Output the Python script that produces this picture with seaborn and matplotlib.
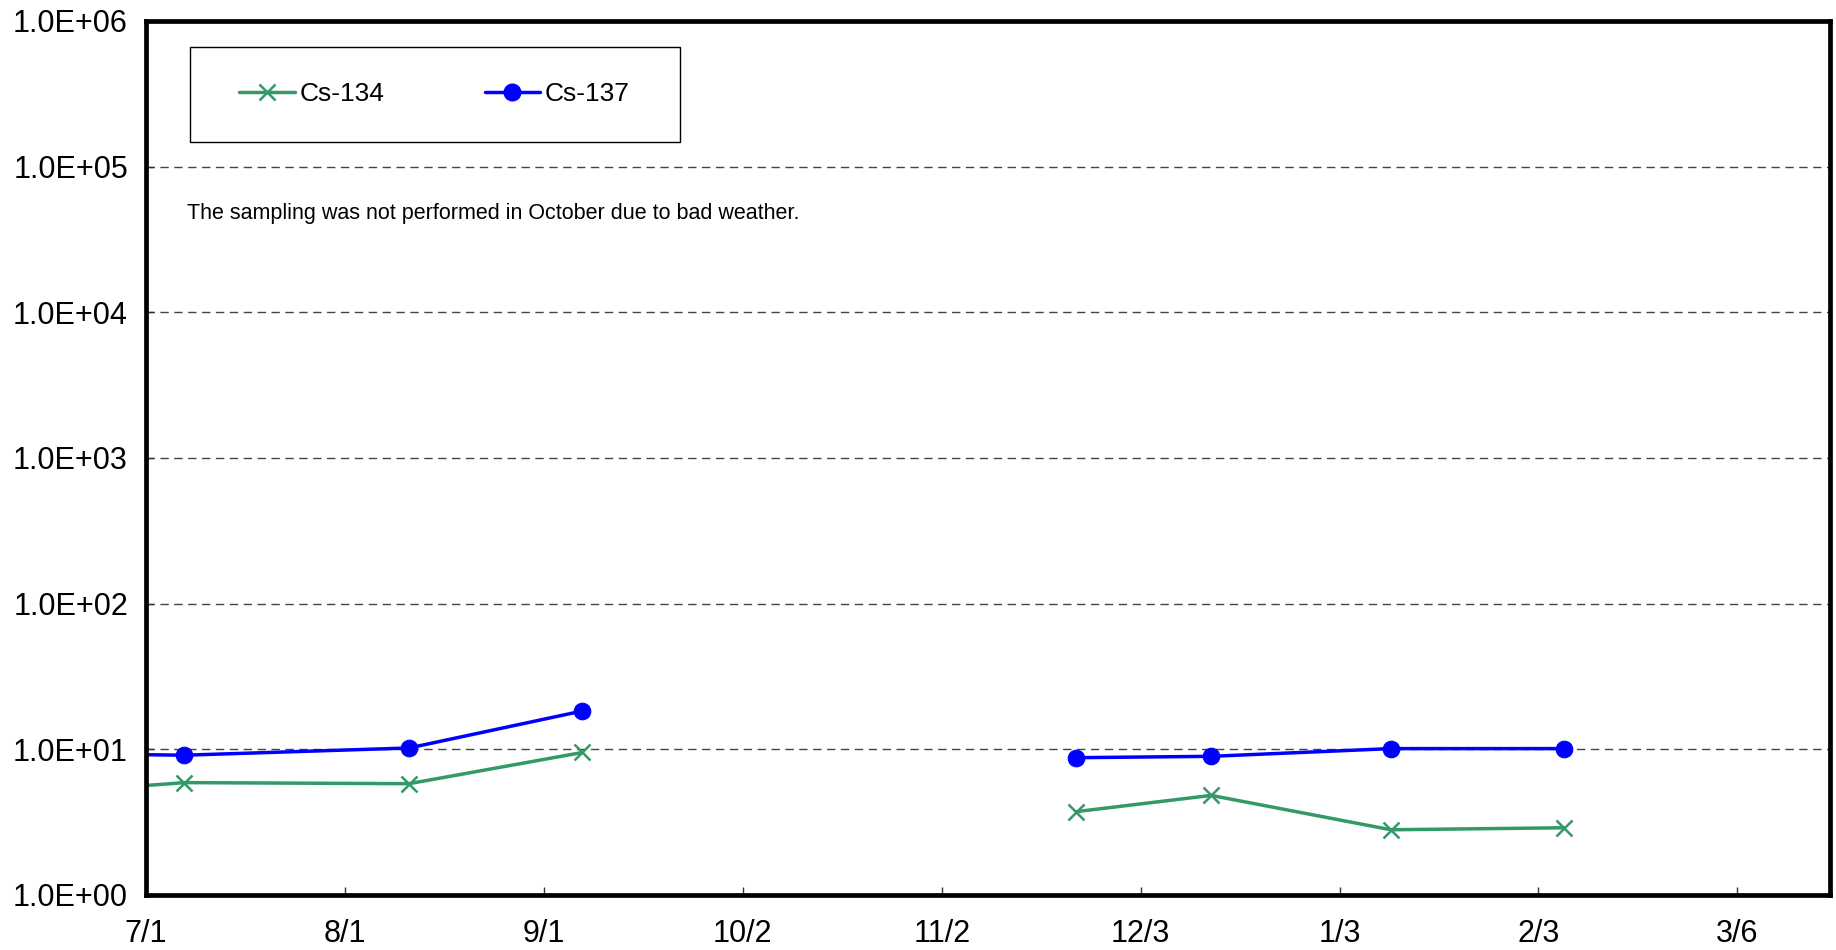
import numpy as np
import pandas as pd
import matplotlib
matplotlib.use("Agg")
import matplotlib.pyplot as plt
from matplotlib.lines import Line2D
from matplotlib.patches import Rectangle
import seaborn as sns

# ---- data ----
dates = ["2012-06-04", "2012-07-07", "2012-08-11", "2012-09-07",
         "2012-11-23", "2012-12-14", "2013-01-11", "2013-02-07"]
segment = [0, 0, 0, 0, 1, 1, 1, 1]
cs134 = [4.6, 5.9, 5.8, 9.5, 3.73, 4.82, 2.80, 2.89]
cs137 = [9.5, 9.1, 10.2, 18.3, 8.75, 8.94, 10.1, 10.1]
tick_dates = ["2012-07-01", "2012-08-01", "2012-09-01", "2012-10-02", "2012-11-02",
              "2012-12-03", "2013-01-03", "2013-02-03", "2013-03-06"]
tick_labels = ["7/1", "8/1", "9/1", "10/2", "11/2", "12/3", "1/3", "2/3", "3/6"]
y_ticks = [1e0, 1e1, 1e2, 1e3, 1e4, 1e5, 1e6]
y_labels = ["1.0E+00", "1.0E+01", "1.0E+02", "1.0E+03", "1.0E+04", "1.0E+05", "1.0E+06"]
note = "The sampling was not performed in October due to bad weather."

df = pd.DataFrame({"date": pd.to_datetime(dates), "seg": segment,
                   "Cs-134": cs134, "Cs-137": cs137})

sns.set_style("white")
plt.rcParams["font.family"] = ["Liberation Sans", "DejaVu Sans"]
plt.rcParams["text.color"] = "black"
plt.rcParams["xtick.color"] = "black"
plt.rcParams["ytick.color"] = "black"
plt.rcParams["xtick.labelcolor"] = "black"
plt.rcParams["ytick.labelcolor"] = "black"

green = "#339966"
blue = "#0000FF"

fig = plt.figure(figsize=(18.36, 9.5), dpi=100)
ax = fig.add_axes([0.0795, 0.058, 0.9172, 0.92])

sns.lineplot(data=df, x="date", y="Cs-134", units="seg", estimator=None, ax=ax,
             color=green, lw=2.5, marker="x", markersize=12, markeredgewidth=1.8,
             markeredgecolor=green)
sns.lineplot(data=df, x="date", y="Cs-137", units="seg", estimator=None, ax=ax,
             color=blue, lw=2.5, marker="o", markersize=12, markeredgecolor=blue,
             markerfacecolor=blue)

ax.set_yscale("log")
ax.set_ylim(1, 1e6)
ax.set_xlim(pd.Timestamp("2012-07-01"), pd.Timestamp("2013-03-20 10:00"))
ax.set_yticks(y_ticks)
ax.set_yticklabels(y_labels)
ax.minorticks_off()
ax.set_xticks(pd.to_datetime(tick_dates))
ax.set_xticklabels(tick_labels)
ax.set_xlabel("")
ax.set_ylabel("")

for yv in y_ticks[1:-1]:
    ax.axhline(yv, color="#444444", lw=1.0, ls=(0, (6, 4)), zorder=0)

for s in ax.spines.values():
    s.set_visible(True)
    s.set_color("black")
    s.set_linewidth(3.4)

ax.tick_params(axis="y", direction="in", length=6, width=1, labelsize=22, pad=13,
               left=True, color="#333333", labelcolor="black")
ax.tick_params(axis="x", direction="in", length=6, width=1, labelsize=22, pad=17,
               bottom=True, color="#333333", labelcolor="black")

# legend box (frame drawn separately to match the wide padding)
ax.add_patch(Rectangle((0.0261, 0.8616), 0.291, 0.1087, transform=ax.transAxes,
                       facecolor="white", edgecolor="black", lw=1.0, zorder=4))
handles = [Line2D([], [], color=green, lw=2.5, marker="x", markersize=12, markeredgewidth=1.8),
           Line2D([], [], color=blue, lw=2.5, marker="o", markersize=12)]
leg = ax.legend(handles, ["Cs-134", "Cs-137"], ncol=2, loc="center left",
                bbox_to_anchor=(0.0555, 0.9165), fontsize=19, frameon=False,
                handlelength=2.1, handletextpad=0.18, columnspacing=3.8,
                borderpad=0, borderaxespad=0)
leg.set_zorder(5)
for t in leg.get_texts():
    t.set_color("black")

ax.text(0.0245, 0.7795, note, transform=ax.transAxes, fontsize=15.5, va="center",
        ha="left", color="black")

fig.savefig("out.png", dpi=100)
